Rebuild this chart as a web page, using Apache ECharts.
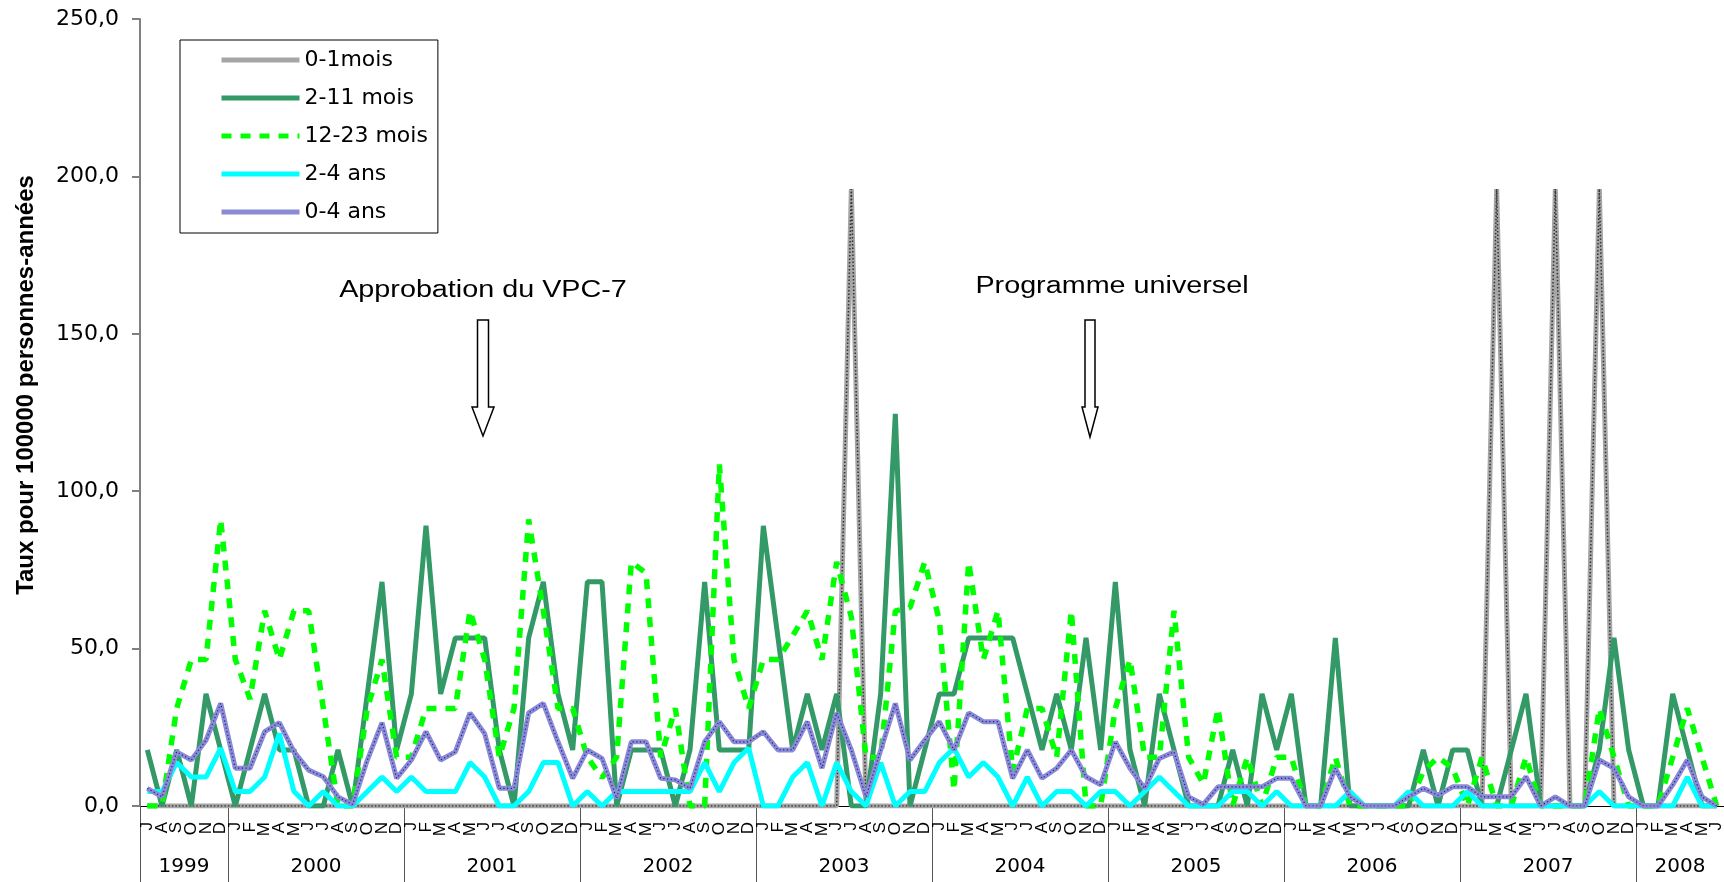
<!DOCTYPE html>
<html>
<head>
<meta charset="utf-8">
<script src="https://cdn.jsdelivr.net/npm/echarts@6/dist/echarts.min.js"></script>
<style>
  html, body { margin: 0; padding: 0; background: #fff; }
  #chart { width: 1724px; height: 882px; }
</style>
</head>
<body>
<div id="chart"></div>
<script>
// period covered: July 1999 -> June 2008, one point per month
const years = [1999, 2000, 2001, 2002, 2003, 2004, 2005, 2006, 2007, 2008]
const firstMonth = 7
const lastMonth = 6
const monthLetters = ['J', 'F', 'M', 'A', 'M', 'J', 'J', 'A', 'S', 'O', 'N', 'D']
const yTicks = [0, 50, 100, 150, 200, 250]

// rates per 100000 person-years, one row per year
const rate01 = [
  0, 0, 0, 0, 0, 0,
  0, 0, 0, 0, 0, 0, 0, 0, 0, 0, 0, 0,
  0, 0, 0, 0, 0, 0, 0, 0, 0, 0, 0, 0,
  0, 0, 0, 0, 0, 0, 0, 0, 0, 0, 0, 0,
  0, 0, 0, 0, 0, 0, 196, 0, 0, 0, 0, 0,
  0, 0, 0, 0, 0, 0, 0, 0, 0, 0, 0, 0,
  0, 0, 0, 0, 0, 0, 0, 0, 0, 0, 0, 0,
  0, 0, 0, 0, 0, 0, 0, 0, 0, 0, 0, 0,
  0, 0, 196, 0, 0, 0, 196, 0, 0, 196, 0, 0,
  0, 0, 0, 0, 0, 0
]
const rate211 = [
  17.8, 0, 17.8, 0, 35.6, 17.8,
  0, 17.8, 35.6, 17.8, 17.8, 0, 0, 17.8, 0, 35.6, 71.2, 17.8,
  35.6, 89, 35.6, 53.4, 53.4, 53.4, 17.8, 0, 53.4, 71.2, 35.6, 17.8,
  71.2, 71.2, 0, 17.8, 17.8, 17.8, 0, 17.8, 71.2, 17.8, 17.8, 17.8,
  89, 53.4, 17.8, 35.6, 17.8, 35.6, 0, 0, 35.6, 124.6, 0, 17.8,
  35.6, 35.6, 53.4, 53.4, 53.4, 53.4, 35.6, 17.8, 35.6, 17.8, 53.4, 17.8,
  71.2, 17.8, 0, 35.6, 17.8, 0, 0, 0, 17.8, 0, 35.6, 17.8,
  35.6, 0, 0, 53.4, 0, 0, 0, 0, 0, 17.8, 0, 17.8,
  17.8, 0, 0, 17.8, 35.6, 0, 0, 0, 0, 17.8, 53.4, 17.8,
  0, 0, 35.6, 17.8, 0, 0
]
const rate1223 = [
  0, 0, 31, 46.5, 46.5, 91,
  46.5, 34, 62, 46.5, 62, 62, 31, 0, 0, 31, 46.5, 15.5,
  15.5, 31, 31, 31, 62, 46.5, 15.5, 31, 91, 62, 31, 31,
  15.5, 9, 15.5, 77.5, 74, 15.5, 31, 0, 0, 108.5, 46.5, 31,
  46.5, 46.5, 54, 62, 46.5, 77.5, 60, 15.5, 15.5, 62, 63, 77.5,
  59, 5, 77.5, 46.5, 62, 11, 31, 31, 15.5, 62, 0, 0,
  31, 46.5, 15.5, 15.5, 62, 15.5, 7, 31, 0, 15.5, 0, 15.5,
  15.5, 0, 0, 15.5, 0, 0, 0, 0, 0, 11, 15.5, 12,
  0, 15.5, 0, 0, 15.5, 0, 0, 0, 0, 31, 15.5, 0,
  0, 0, 15.5, 31, 15.5, 0
]
const rate24 = [
  4.6, 4.6, 13.8, 9.2, 9.2, 18.4,
  4.6, 4.6, 9.2, 23, 4.6, 0, 4.6, 0, 0, 4.6, 9.2, 4.6,
  9.2, 4.6, 4.6, 4.6, 13.8, 9.2, 0, 0, 4.6, 13.8, 13.8, 0,
  4.6, 0, 4.6, 4.6, 4.6, 4.6, 4.6, 4.6, 13.8, 4.6, 13.8, 18.4,
  0, 0, 9.2, 13.8, 0, 13.8, 4.6, 0, 13.8, 0, 4.6, 4.6,
  13.8, 18.4, 9.2, 13.8, 9.2, 0, 9.2, 0, 4.6, 4.6, 0, 4.6,
  4.6, 0, 4.6, 9.2, 4.6, 0, 0, 0, 4.6, 4.6, 0, 4.6,
  0, 0, 0, 0, 4.6, 0, 0, 0, 4.6, 0, 0, 0,
  4.6, 0, 0, 0, 0, 0, 0, 0, 0, 4.6, 0, 0,
  0, 0, 0, 9.2, 0, 0
]
const rate04 = [
  5.6, 2.9, 17.2, 14.6, 20.9, 32.6,
  12, 12, 23.6, 26.5, 17.2, 11.4, 9.3, 2.9, 0.5, 14.6, 26.5, 8.8,
  14.6, 23.6, 14.6, 17.2, 29.6, 23, 5.6, 5.6, 29.6, 32.6, 20.4, 8.8,
  17.8, 15.1, 2.4, 20.4, 20.4, 8.8, 8.3, 5.6, 20.4, 26.8, 20.4, 20.4,
  23.6, 17.8, 17.8, 26.8, 12, 29.6, 17.8, 2.9, 17.7, 32.6, 14.6, 20.9,
  26.8, 17.8, 29.6, 26.8, 26.8, 8.8, 17.8, 8.8, 12, 17.8, 9.3, 6.7,
  20.4, 12, 5.6, 15.1, 17.2, 2.9, 0.5, 6.1, 6.1, 6.1, 6.1, 8.8,
  8.8, 0, 0, 12, 2.9, 0, 0, 0, 2.9, 5.6, 3.4, 6.1,
  6.1, 2.9, 2.9, 2.9, 9.3, 0, 2.9, 0, 0, 14.6, 12, 2.9,
  0, 0, 6.7, 14.6, 2.9, 0
]

// month categories plus year boundaries / year label positions
const months = []
const yearStarts = []
const yearMids = []
years.forEach((y) => {
  const from = y === years[0] ? firstMonth : 1
  const to = y === years[years.length - 1] ? lastMonth : 12
  yearStarts.push(months.length)
  yearMids.push(months.length + (to - from + 1) / 2)
  for (let m = from; m <= to; m++) months.push(y + '-' + m)
})

const chart = echarts.init(document.getElementById('chart'))

const line = (name, data, style, z) => ({
  name: name,
  type: 'line',
  data: data,
  symbol: 'none',
  silent: true,
  z: z,
  itemStyle: { color: style.color },
  lineStyle: style,
  emphasis: { disabled: true }
})

const arrow = (cx, top, neck, tip, shaft, head) => [
  [cx - shaft, top], [cx + shaft, top], [cx + shaft, neck], [cx + head, neck],
  [cx, tip], [cx - head, neck], [cx - shaft, neck]
]

const option = {
  animation: false,
  backgroundColor: '#fff',
  grid: {
    left: 140,
    right: 0,
    top: 19,
    bottom: 76,
    containLabel: false,
    outerBoundsMode: 'none'
  },
  legend: {
    orient: 'vertical',
    left: 180,
    top: 40,
    data: ['0-1mois', '2-11 mois', '12-23 mois', '2-4 ans', '0-4 ans'],
    padding: [9, 10, 10, 39],
    itemWidth: 78,
    itemHeight: 14,
    itemGap: 16,
    borderColor: '#000',
    borderWidth: 1,
    backgroundColor: '#fff',
    selectedMode: false,
    itemStyle: { color: 'rgba(0,0,0,0)', borderWidth: 0, opacity: 0 },
    lineStyle: { width: 5 },
    textStyle: {
      fontFamily: 'DejaVu Sans',
      fontSize: 22,
      color: '#000'
    }
  },
  xAxis: [
    {
      type: 'category',
      data: months,
      boundaryGap: true,
      position: 'bottom',
      axisLine: { lineStyle: { color: '#000', width: 1 } },
      axisTick: { interval: 0, length: 32, lineStyle: { color: '#000' } },
      axisLabel: {
        interval: 0,
        rotate: 90,
        margin: 16,
        fontFamily: 'Liberation Sans',
        fontSize: 17,
        color: '#000',
        formatter: (v) => monthLetters[+v.split('-')[1] - 1]
      },
      splitLine: { show: false }
    },
    {
      type: 'value',
      min: 0,
      max: months.length,
      position: 'bottom',
      axisLine: { show: false },
      splitLine: { show: false },
      axisTick: {
        show: true,
        customValues: yearStarts,
        length: 76,
        lineStyle: { color: '#555', width: 1 }
      },
      axisLabel: {
        customValues: yearMids,
        margin: 51,
        fontFamily: 'DejaVu Sans',
        fontSize: 20,
        color: '#000',
        formatter: (v) => String(years[yearMids.indexOf(v)])
      }
    }
  ],
  yAxis: {
    type: 'value',
    min: yTicks[0],
    max: yTicks[yTicks.length - 1],
    interval: 50,
    axisLine: { show: true, lineStyle: { color: '#808080', width: 2 } },
    axisTick: { show: true, length: 8, lineStyle: { color: '#808080', width: 2 } },
    axisLabel: {
      margin: 21,
      fontFamily: 'DejaVu Sans',
      fontSize: 22,
      color: '#000',
      formatter: (v) => v.toFixed(1).replace('.', ',')
    },
    splitLine: { show: false }
  },
  series: [
    line('0-1mois', rate01, { color: '#a6a6a6', width: 5 }, 2),
    line('2-11 mois', rate211, { color: '#339966', width: 5 }, 3),
    line('12-23 mois', rate1223, { color: '#00ff00', width: 5.5, type: [10, 9], cap: 'butt' }, 4),
    line('2-4 ans', rate24, { color: '#00ffff', width: 5 }, 5),
    line('0-4 ans', rate04, { color: '#8a8ad6', width: 5 }, 6),
    // dotted cores that mimic the patterned Excel lines
    line('0-1mois', rate01, { color: '#333', width: 1.5, type: [1.5, 2] }, 2),
    line('0-4 ans', rate04, { color: '#20208a', width: 1.2, type: [1.2, 2.5] }, 6)
  ],
  graphic: [
    {
      type: 'text',
      x: 26,
      y: 385,
      rotation: Math.PI / 2,
      style: {
        text: 'Taux pour 100000 personnes-années',
        font: 'bold 24px "Liberation Sans"',
        fill: '#000',
        align: 'center',
        verticalAlign: 'middle',
        textAlign: 'center',
        textVerticalAlign: 'middle'
      }
    },
    {
      type: 'text',
      x: 483,
      y: 291,
      scaleX: 1.25,
      style: {
        text: 'Approbation du VPC-7',
        font: '23px "Liberation Sans"',
        fill: '#000',
        align: 'center',
        verticalAlign: 'middle',
        textAlign: 'center',
        textVerticalAlign: 'middle'
      }
    },
    {
      type: 'text',
      x: 1112,
      y: 287,
      scaleX: 1.25,
      style: {
        text: 'Programme universel',
        font: '23px "Liberation Sans"',
        fill: '#000',
        align: 'center',
        verticalAlign: 'middle',
        textAlign: 'center',
        textVerticalAlign: 'middle'
      }
    },
    {
      type: 'polygon',
      shape: { points: arrow(483, 320, 407, 436, 5.5, 11) },
      style: { fill: '#fff', stroke: '#000', lineWidth: 1.5 }
    },
    {
      type: 'polygon',
      shape: { points: arrow(1090, 320, 407, 437, 5, 8) },
      style: { fill: '#fff', stroke: '#000', lineWidth: 1.5 }
    }
  ]
}

chart.setOption(option)
</script>
</body>
</html>
